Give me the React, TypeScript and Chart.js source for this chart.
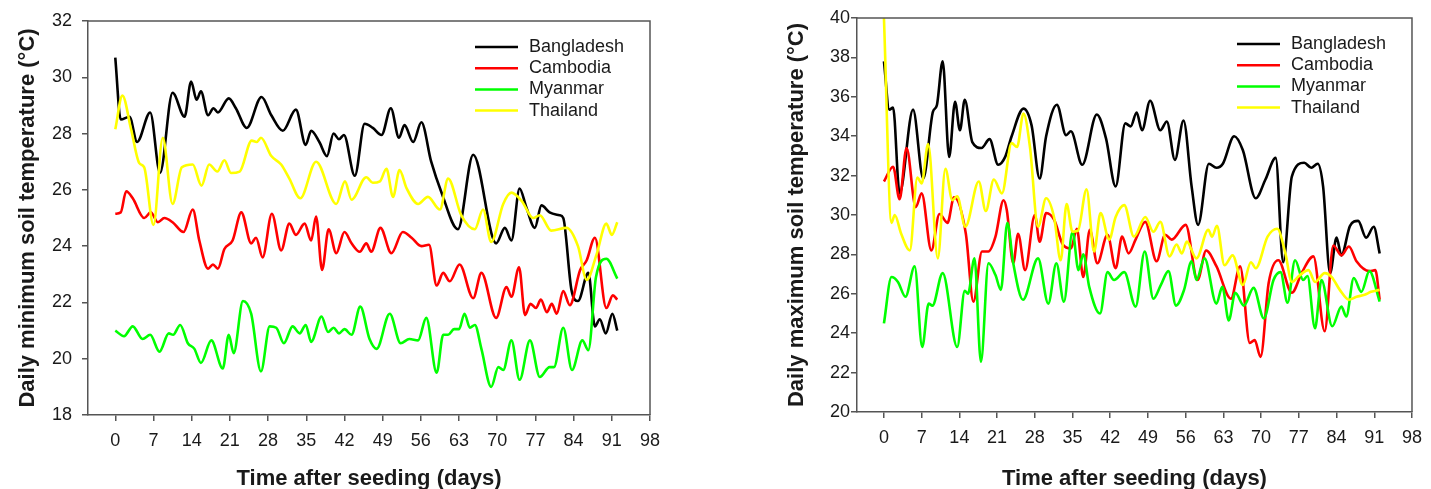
import React, { useEffect, useRef } from "react";
import { Chart, registerables } from "chart.js";

Chart.register(...registerables);

// ---------- labels ----------
const COUNTRIES = ["Bangladesh", "Cambodia", "Myanmar", "Thailand"];
const LINE_COLORS = ["#000000", "#ff0000", "#00ff00", "#ffff00"];
const X_TICKS = [0, 7, 14, 21, 28, 35, 42, 49, 56, 63, 70, 77, 84, 91, 98];
const X_TITLE = "Time after seeding (days)";
const MIN_TITLE = "Daily minimum soil temperature (°C)";
const MAX_TITLE = "Daily maximum soil temperature (°C)";

// ---------- daily minimum soil temperature ----------
const bdMinDay = [0, 1, 2.6, 4, 6.4, 8.2, 10.5, 12.7, 13.9, 14.9, 15.7, 17, 18, 18.8, 20.8, 22.1, 24.1, 26.8, 28.6, 30.7, 33.1, 34.9, 35.9, 37.4, 38.8, 40, 41, 41.9, 43.9, 45.7, 47.2, 48.8, 50.5, 52, 53, 54.6, 56.1, 57.9, 59.8, 62.8, 65.6, 69.8, 71.4, 72.6, 74.1, 75.3, 76.9, 78.1, 79.6, 81.4, 82.1, 83.6, 84.8, 86.7, 87.9, 88.8, 89.9, 91.1, 92];
const bdMinTemp = [30.7, 28.5, 28.6, 27.7, 28.75, 26.6, 29.45, 28.6, 29.85, 29.2, 29.5, 28.65, 28.9, 28.75, 29.25, 28.9, 28.2, 29.3, 28.65, 28.1, 28.85, 27.6, 28.1, 27.7, 27.2, 28.0, 27.8, 27.95, 26.5, 28.35, 28.2, 27.95, 28.9, 27.85, 28.3, 27.7, 28.4, 27.0, 25.9, 24.6, 27.25, 24.1, 24.65, 24.2, 26.05, 25.4, 24.65, 25.45, 25.2, 25.1, 25.0, 22.45, 22.05, 23.05, 21.15, 21.4, 20.9, 21.6, 21.0];

const kh_MinDay = [0, 1, 2, 3.2, 5.3, 6.5, 7.8, 9, 10.5, 12.5, 14.2, 15.4, 17, 17.9, 18.8, 20, 21.5, 23.1, 24.9, 25.8, 27, 28.7, 30.4, 31.9, 33.1, 34.7, 35.9, 36.8, 37.9, 39.1, 40.5, 42, 43.3, 44.8, 46, 46.9, 48.6, 50.6, 52.7, 54.3, 56.1, 57.5, 58.9, 60.1, 61.3, 63.1, 65.6, 67.1, 69.8, 71.7, 72.6, 74, 75.1, 76.1, 77.1, 78, 79.1, 80, 80.9, 82.1, 83.3, 85.2, 86.4, 87.9, 90, 91.2, 92];
const kh_MinTemp = [25.15, 25.2, 25.95, 25.7, 25.0, 25.2, 24.85, 25.0, 24.85, 24.5, 25.3, 24.2, 23.2, 23.35, 23.2, 23.9, 24.2, 25.2, 24.1, 24.3, 23.6, 25.15, 23.85, 24.8, 24.4, 24.8, 24.2, 25.05, 23.15, 24.6, 23.75, 24.5, 24.1, 23.8, 24.1, 23.8, 24.65, 23.75, 24.5, 24.3, 24.0, 24.05, 22.6, 23.05, 22.75, 23.35, 22.15, 23.05, 21.45, 22.55, 22.2, 23.25, 21.55, 21.95, 21.8, 22.1, 21.65, 21.95, 21.6, 22.4, 21.9, 23.15, 23.5, 24.3, 21.8, 22.25, 22.1];

const mmMinDay = [0, 1.6, 3.2, 5, 6.4, 8.1, 9.8, 10.6, 11.9, 13.3, 14.5, 15.7, 17.6, 19.7, 20.8, 21.7, 23.4, 24.9, 26.7, 28.3, 29.5, 30.9, 32.5, 33.8, 34.9, 35.9, 37.8, 39, 40, 41, 42, 43.3, 44.9, 46.6, 47.9, 50.3, 52.3, 53.9, 55.5, 57, 58.9, 60.1, 61, 62.1, 63, 64, 65, 65.9, 67.1, 68.9, 70.2, 71.1, 72.6, 74.1, 76, 77.8, 79.6, 80.4, 82.1, 83.7, 85.6, 86.7, 88.1, 90, 92];
const mmMinTemp = [21.0, 20.8, 21.15, 20.7, 20.85, 20.25, 20.9, 20.85, 21.2, 20.55, 20.35, 19.85, 20.65, 19.65, 20.85, 20.2, 22.05, 21.6, 19.55, 21.15, 21.1, 20.55, 21.15, 20.9, 21.2, 20.6, 21.5, 20.95, 21.1, 20.9, 21.05, 20.85, 21.85, 20.7, 20.35, 21.6, 20.55, 20.7, 20.65, 21.45, 19.5, 20.85, 20.85, 21.05, 21.05, 21.6, 21.1, 21.2, 20.35, 19.0, 19.7, 19.6, 20.65, 19.25, 20.65, 19.35, 19.7, 19.7, 21.1, 19.6, 20.65, 20.3, 22.9, 23.55, 22.85];

const thMinDay = [0, 1.3, 2.9, 4.4, 5.3, 7, 8.7, 10.5, 12.2, 14.2, 15.8, 17.2, 18.7, 20, 21.2, 22.8, 25, 25.9, 26.7, 28.6, 30.4, 31.9, 33.9, 36.8, 40.5, 42.1, 43.3, 46, 47.2, 48.5, 49.7, 50.9, 52.1, 53.4, 55.5, 57.3, 59.5, 61, 63.4, 65.9, 67.4, 68.9, 71.1, 72.6, 74.5, 76.6, 77.8, 79.9, 82.7, 84.8, 86.4, 88.2, 90, 91, 92];
const thMinTemp = [28.15, 29.35, 28.15, 26.95, 26.8, 24.75, 27.85, 25.5, 26.8, 26.9, 26.15, 26.9, 26.65, 27.05, 26.6, 26.65, 27.75, 27.7, 27.85, 27.2, 26.9, 26.4, 25.7, 27.0, 25.5, 26.3, 25.65, 26.45, 26.25, 26.3, 26.75, 25.75, 26.7, 26.05, 25.5, 25.75, 25.3, 26.4, 25.1, 24.6, 25.3, 24.15, 25.5, 25.9, 25.6, 25.0, 25.1, 24.55, 24.65, 24.0, 22.8, 23.7, 24.8, 24.4, 24.85];

// ---------- daily maximum soil temperature ----------
const bdMaxDay = [0, 1, 1.7, 2.9, 5.4, 7.3, 9.1, 9.8, 10.9, 12.1, 13.2, 14.1, 15, 16.4, 18.1, 19.6, 21.2, 22.5, 23.7, 25.9, 27.4, 28.9, 30.1, 32.1, 33.8, 34.7, 36.8, 39.5, 41.2, 43, 44.8, 45.8, 46.9, 47.9, 49.4, 51.3, 52.5, 54, 55.6, 57.1, 58.3, 60.3, 61.7, 62.9, 65, 66.6, 69, 70.8, 72.7, 74.1, 75.7, 78, 79.3, 80.5, 81.5, 82.8, 84, 84.9, 86.5, 88, 89.5, 90.9, 92];
const bdMaxTemp = [37.8, 35.35, 35.45, 31.1, 35.35, 31.85, 35.25, 35.55, 37.8, 32.95, 35.75, 34.3, 35.85, 33.7, 33.4, 33.85, 32.55, 32.95, 34.0, 35.4, 34.55, 31.85, 34.0, 35.6, 34.05, 34.25, 32.55, 35.1, 33.9, 31.45, 34.65, 34.5, 35.2, 34.3, 35.8, 34.3, 34.75, 32.8, 34.8, 31.45, 29.5, 32.6, 32.4, 32.6, 34.0, 33.3, 30.85, 31.8, 32.9, 27.6, 31.95, 32.65, 32.4, 32.6, 31.45, 27.05, 28.85, 27.95, 29.45, 29.7, 28.85, 29.4, 28.05];

const kh_MaxDay = [0, 1.7, 2.9, 4.2, 5.9, 7, 8.8, 10.3, 11.8, 13, 15.2, 16.6, 18.2, 19.4, 20.7, 22.2, 22.8, 24, 24.9, 26.2, 28, 28.9, 30.1, 31.6, 33.2, 34.7, 35.8, 37, 38.2, 39.6, 41.5, 43, 44.2, 45.4, 46.7, 48.5, 50.6, 52.2, 53.4, 56, 58.2, 59.8, 61.7, 64.4, 66.1, 67.9, 68.8, 69.9, 71.4, 73.2, 75.7, 77.6, 79.7, 81.8, 83.4, 84.9, 86.3, 87.7, 90.1, 91.2, 92];
const kh_MaxTemp = [31.7, 32.45, 30.8, 33.4, 30.4, 31.1, 28.2, 30.05, 29.6, 30.9, 29.05, 25.6, 28.15, 28.15, 28.9, 30.75, 30.25, 27.55, 29.05, 27.2, 30.0, 28.65, 30.1, 29.75, 28.5, 28.3, 29.3, 26.85, 29.25, 27.55, 29.0, 27.3, 28.9, 28.05, 28.75, 29.65, 27.65, 29.0, 28.75, 29.5, 26.7, 28.2, 27.4, 25.75, 27.4, 23.5, 23.65, 22.8, 26.55, 27.7, 26.05, 27.1, 27.9, 24.1, 28.45, 27.95, 28.4, 27.65, 27.15, 27.2, 25.7];

const mmMaxDay = [0, 1.4, 2.6, 4, 5.7, 7.1, 8.3, 9, 10.9, 13.6, 15, 15.6, 16.8, 18, 19.4, 20.7, 21.7, 22.9, 24, 25.8, 28.6, 30.5, 32, 33.4, 35, 36.1, 37, 38.1, 40.1, 41.5, 42.7, 44.6, 46.7, 48.4, 50, 51.4, 52.8, 54.2, 55.7, 57.1, 58, 59.5, 61.7, 62.8, 64, 65.2, 66.8, 68.6, 70.5, 72.3, 73.6, 74.9, 76.3, 77.8, 78.6, 80, 81.2, 83.2, 84.9, 85.8, 87.2, 88.6, 90.1, 92];
const mmMaxTemp = [24.5, 26.85, 26.6, 25.85, 27.4, 23.3, 25.5, 25.4, 27.05, 23.3, 26.15, 26.0, 27.8, 22.55, 27.55, 26.95, 26.2, 29.6, 27.55, 25.7, 27.8, 25.5, 27.55, 25.6, 29.15, 27.2, 28.0, 26.35, 25.0, 27.1, 26.7, 27.1, 25.35, 28.15, 25.75, 26.45, 27.15, 25.4, 26.2, 27.65, 26.7, 27.8, 25.5, 26.35, 24.65, 26.05, 25.4, 26.3, 24.75, 26.7, 27.1, 25.55, 27.7, 26.7, 26.9, 24.25, 26.7, 24.35, 25.35, 24.85, 26.8, 26.1, 27.15, 25.6];

const thMaxDay = [0, 1.4, 2, 3.2, 4.8, 6.2, 7, 8.2, 10, 11.4, 12.7, 13.6, 15.1, 17.6, 18.9, 20.4, 21.9, 23.7, 24.7, 25.9, 27.1, 28.6, 30.1, 31.6, 32.8, 33.9, 35, 36, 37.6, 39, 40.2, 41.8, 43, 44.6, 46.4, 48.5, 50, 51.3, 53, 54.3, 55.3, 56.2, 58, 60.2, 60.9, 61.8, 63.2, 64.7, 66.6, 68.1, 69, 71.2, 73, 74.5, 75.7, 77.2, 78.8, 80, 81.8, 83.1, 84.6, 86.3, 87.7, 89.2, 90.4, 92];
const thMaxTemp = [40.0, 29.6, 30.0, 29.05, 28.2, 31.9, 31.6, 33.6, 27.8, 32.35, 30.75, 30.95, 29.4, 31.7, 30.2, 31.8, 31.1, 33.65, 33.45, 35.15, 33.45, 29.4, 30.85, 29.85, 27.7, 30.55, 29.15, 29.2, 31.3, 28.15, 30.1, 28.75, 29.9, 30.5, 28.9, 29.9, 29.15, 29.65, 27.9, 28.5, 28.05, 28.65, 27.8, 29.25, 28.9, 29.45, 27.45, 27.95, 26.45, 27.6, 27.3, 28.9, 29.3, 28.05, 26.6, 26.95, 27.2, 26.6, 27.05, 26.85, 26.2, 25.7, 25.85, 25.95, 26.1, 26.2];

// ---------- styling ----------
const FONT = "'Liberation Sans', Arial, Helvetica, sans-serif";
const AXIS_COLOR = "#555555";
const TEXT_COLOR = "#1a1a1a";
const CANVAS_H = 489;

type Series = { days: number[]; temps: number[] };
type PanelSpec = {
  series: Series[];
  yMin: number;
  yMax: number;
  yTitle: string;
  padding: { left: number; top: number; right: number; bottom: number };
  yAxisWidth: number;
  xAxisHeight: number;
  yTitlePad: number;
  yTickPad: number;
};

const minPanel: PanelSpec = {
  series: [
    { days: bdMinDay, temps: bdMinTemp },
    { days: kh_MinDay, temps: kh_MinTemp },
    { days: mmMinDay, temps: mmMinTemp },
    { days: thMinDay, temps: thMinTemp },
  ],
  yMin: 18,
  yMax: 32,
  yTitle: MIN_TITLE,
  padding: { left: 0, top: 21, right: 50, bottom: 0 },
  yAxisWidth: 88,
  xAxisHeight: 74,
  yTitlePad: 15,
  yTickPad: 10,
};

const maxPanel: PanelSpec = {
  series: [
    { days: bdMaxDay, temps: bdMaxTemp },
    { days: kh_MaxDay, temps: kh_MaxTemp },
    { days: mmMaxDay, temps: mmMaxTemp },
    { days: thMaxDay, temps: thMaxTemp },
  ],
  yMin: 20,
  yMax: 40,
  yTitle: MAX_TITLE,
  padding: { left: 60, top: 18, right: 13, bottom: 0 },
  yAxisWidth: 77,
  xAxisHeight: 77,
  yTitlePad: 4,
  yTickPad: 1,
};

const framePlugin = {
  id: "frameTopRight",
  afterDatasetsDraw(chart: any) {
    const { ctx, chartArea: a } = chart;
    ctx.save();
    ctx.strokeStyle = AXIS_COLOR;
    ctx.lineWidth = 1.5;
    ctx.beginPath();
    ctx.moveTo(a.left, a.top);
    ctx.lineTo(a.right, a.top);
    ctx.lineTo(a.right, a.bottom);
    ctx.stroke();
    ctx.restore();
  },
};

const insetLegendPlugin = {
  id: "insetLegend",
  afterDraw(chart: any) {
    const { ctx, chartArea: a } = chart;
    ctx.save();
    ctx.font = `18px ${FONT}`;
    ctx.textBaseline = "middle";
    ctx.textAlign = "left";
    chart.data.datasets.forEach((ds: any, i: number) => {
      const y = a.top + 26 + i * 21.2;
      ctx.strokeStyle = ds.borderColor;
      ctx.lineWidth = 2.5;
      ctx.beginPath();
      ctx.moveTo(a.right - 175, y);
      ctx.lineTo(a.right - 132, y);
      ctx.stroke();
      ctx.fillStyle = TEXT_COLOR;
      ctx.fillText(ds.label, a.right - 121, y);
    });
    ctx.restore();
  },
};

function buildConfig(spec: PanelSpec): any {
  return {
    type: "line",
    data: {
      datasets: spec.series.map((s, i) => ({
        label: COUNTRIES[i],
        data: s.days.map((d, j) => ({ x: d, y: s.temps[j] })),
        borderColor: LINE_COLORS[i],
        backgroundColor: LINE_COLORS[i],
        borderWidth: 2.6,
        pointRadius: 0,
        pointHoverRadius: 0,
        cubicInterpolationMode: "monotone",
        fill: false,
        order: 3 - i,
      })),
    },
    options: {
      animation: false,
      responsive: false,
      maintainAspectRatio: false,
      events: [],
      layout: { padding: spec.padding },
      plugins: {
        legend: { display: false },
        tooltip: { enabled: false },
      },
      scales: {
        x: {
          type: "linear",
          min: -5,
          max: 98,
          afterBuildTicks: (s: any) => {
            s.ticks = X_TICKS.map((v) => ({ value: v }));
          },
          afterFit: (s: any) => {
            s.height = spec.xAxisHeight;
          },
          grid: {
            drawOnChartArea: false,
            drawTicks: true,
            tickLength: 6,
            color: AXIS_COLOR,
            lineWidth: 1.5,
          },
          border: { display: true, color: AXIS_COLOR, width: 1.5 },
          ticks: {
            color: TEXT_COLOR,
            font: { family: FONT, size: 18 },
            padding: 9,
            maxRotation: 0,
            autoSkip: false,
            callback: (v: any) => String(v),
          },
          title: {
            display: true,
            text: X_TITLE,
            color: TEXT_COLOR,
            font: { family: FONT, size: 22, weight: "bold" },
            padding: { top: 0, bottom: -3 },
          },
        },
        y: {
          type: "linear",
          min: spec.yMin,
          max: spec.yMax,
          afterFit: (s: any) => {
            s.width = spec.yAxisWidth;
          },
          grid: {
            drawOnChartArea: false,
            drawTicks: true,
            tickLength: 6,
            color: AXIS_COLOR,
            lineWidth: 1.5,
          },
          border: { display: true, color: AXIS_COLOR, width: 1.5 },
          ticks: {
            stepSize: 2,
            color: TEXT_COLOR,
            font: { family: FONT, size: 18 },
            padding: spec.yTickPad,
            callback: (v: any) => String(v),
          },
          title: {
            display: true,
            text: spec.yTitle,
            color: TEXT_COLOR,
            font: { family: FONT, size: 22, weight: "bold" },
            padding: { top: spec.yTitlePad, bottom: 0 },
          },
        },
      },
    },
    plugins: [framePlugin, insetLegendPlugin],
  };
}

function Panel({ spec, left, width }: { spec: PanelSpec; left: number; width: number }) {
  const ref = useRef<HTMLCanvasElement | null>(null);
  useEffect(() => {
    if (!ref.current) return;
    const chart = new Chart(ref.current, buildConfig(spec));
    return () => chart.destroy();
  }, [spec]);
  return (
    <canvas
      ref={ref}
      width={width}
      height={CANVAS_H}
      style={{ position: "absolute", left, top: 0, width, height: CANVAS_H }}
    />
  );
}

export default function App() {
  return (
    <div
      style={{
        position: "absolute",
        left: 0,
        top: 0,
        width: 1431,
        height: CANVAS_H,
        background: "#ffffff",
        overflow: "hidden",
      }}
    >
      <Panel spec={minPanel} left={0} width={700} />
      <Panel spec={maxPanel} left={720} width={711} />
    </div>
  );
}
